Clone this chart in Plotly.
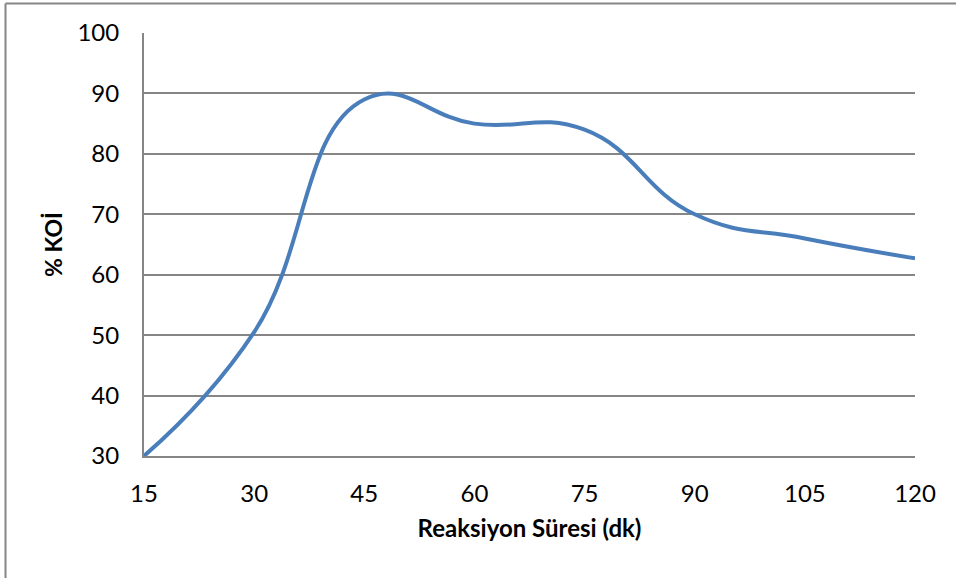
import plotly.graph_objects as go

time_min = [15, 30, 45, 60, 75, 90, 105, 120]
koi_pct = [30, 50.5, 89, 85, 84, 70, 66, 62.7]
y_ticks = [30, 40, 50, 60, 70, 80, 90, 100]
x_ticks = [15, 30, 45, 60, 75, 90, 105, 120]

W, H = 956, 578
L, R, T, B = 144, 915, 33, 456.5
pw, ph = R - L, B - T

fig = go.Figure()
fig.add_trace(go.Scatter(
    x=time_min, y=koi_pct, mode="lines",
    line=dict(color="#4A7EBB", width=4, shape="spline", smoothing=1.3),
    showlegend=False, hoverinfo="x+y"))

font_fam = "Lato, 'Open Sans', sans-serif"
fig.update_layout(
    width=W, height=H,
    margin=dict(l=L, r=W - R, t=T, b=H - B, pad=0),
    paper_bgcolor="white", plot_bgcolor="white",
    font=dict(family=font_fam, color="black", size=24),
    xaxis=dict(range=[15, 120], tickvals=x_ticks, ticktext=[str(v) for v in x_ticks],
               showgrid=False, zeroline=False, showline=True, linecolor="#868686",
               linewidth=2, ticks="", ticklen=0, tickfont=dict(size=24),
               ticklabelstandoff=15,
               title=dict(text="<b>Reaksiyon Süresi (dk)</b>", font=dict(size=24), standoff=14)),
    yaxis=dict(range=[30, 100], tickvals=y_ticks, showgrid=True, gridcolor="#868686",
               gridwidth=1.5, zeroline=False, showline=True, linecolor="#868686",
               linewidth=2, ticks="", tickfont=dict(size=24), ticklabelstandoff=18,
               title=dict(text="<b>% KOİ</b>", font=dict(size=23), standoff=8)),
)

# outer chart-area border (left and top edges visible)
bx0 = (5.5 - L) / pw
by1 = (B - 3.5) / ph
fig.add_shape(type="line", xref="paper", yref="paper", x0=bx0, x1=bx0, y0=-2, y1=by1,
              line=dict(color="#868686", width=2))
fig.add_shape(type="line", xref="paper", yref="paper", x0=bx0, x1=2, y0=by1, y1=by1,
              line=dict(color="#868686", width=2))

fig.write_html("out.html")
